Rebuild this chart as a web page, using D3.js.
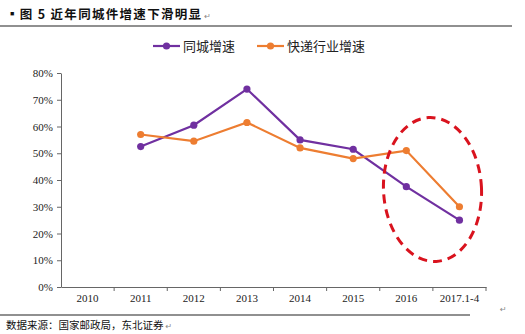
<!DOCTYPE html>
<html><head><meta charset="utf-8">
<script src="https://cdn.jsdelivr.net/npm/d3@7"></script>
<style>body{margin:0;background:#fff}svg{display:block}</style>
</head><body>
<script>
const categories = ["2010","2011","2012","2013","2014","2015","2016","2017.1-4"];
const cityGrowth = [null,52.5,60.5,74,55,51.5,37.5,25];
const expressGrowth = [null,57,54.5,61.5,52,48,51,30];
const yTicks = [0,10,20,30,40,50,60,70,80];
const seriesNames = ["同城增速","快递行业增速"];
const colors = ["#7030a0","#ed7d31"];

const W=525,H=334;
const svg=d3.select("body").append("svg").attr("width",W).attr("height",H);
const m={l:61,r:39,t:73,b:47};
const x=d3.scaleBand().domain(categories).range([m.l,W-m.r]);
const y=d3.scaleLinear().domain([0,80]).range([H-m.b,m.t]);

function withMark(t,xx,yy){
  const w=t.node().getComputedTextLength();
  svg.append("text").attr("x",xx+w+2).attr("y",yy).attr("font-family","DejaVu Sans").attr("font-size",8).attr("fill","#888").text("↵");
}

// title
const tt=svg.append("text").attr("x",6).attr("y",19).attr("font-family","Noto Sans CJK SC").attr("font-weight","bold")
  .attr("font-size",12.5).attr("letter-spacing",1.3).attr("fill","#111").text("▪图 5 近年同城件增速下滑明显");
withMark(tt,6,19);
svg.append("line").attr("x1",0).attr("x2",512).attr("y1",26).attr("y2",26).attr("stroke","#222").attr("stroke-width",1.2);

// axes
const ya=svg.append("g").attr("transform",`translate(${m.l},0)`)
  .call(d3.axisLeft(y).tickValues(yTicks).tickFormat(d=>d+"%").tickSize(4).tickSizeOuter(0));
const xa=svg.append("g").attr("transform",`translate(0,${H-m.b})`)
  .call(d3.axisBottom(x).tickSize(0).tickSizeOuter(0));
[ya,xa].forEach(g=>{g.select(".domain").attr("stroke","#666");g.selectAll("line").attr("stroke","#666");
  g.selectAll("text").attr("font-family","Liberation Serif").attr("font-size",11).attr("fill","#222");});
ya.selectAll("text").attr("dx",-1);
xa.selectAll("text").attr("dy",12);
// category boundary ticks
const bounds=categories.map(c=>x(c)).concat([x.range()[1]]);
svg.append("g").selectAll("line").data(bounds.slice(1)).join("line")
  .attr("x1",d=>d).attr("x2",d=>d).attr("y1",H-m.b).attr("y2",H-m.b+4).attr("stroke","#666");

// series
const cx=c=>x(c)+x.bandwidth()/2;
[cityGrowth,expressGrowth].forEach((vals,i)=>{
  const pts=categories.map((c,j)=>({c,v:vals[j]})).filter(d=>d.v!=null);
  svg.append("path").datum(pts).attr("fill","none").attr("stroke",colors[i]).attr("stroke-width",2.2)
    .attr("d",d3.line().x(d=>cx(d.c)).y(d=>y(d.v)));
  svg.append("g").selectAll("circle").data(pts).join("circle")
    .attr("cx",d=>cx(d.c)).attr("cy",d=>y(d.v)).attr("r",3.6).attr("fill",colors[i]);
});

// red dashed ellipse
svg.append("ellipse").attr("cx",432.5).attr("cy",189.5).attr("rx",49).attr("ry",72)
  .attr("transform","rotate(-3,432.5,189.5)")
  .attr("fill","none").attr("stroke","#d9131e").attr("stroke-width",3).attr("stroke-dasharray","9,6");

// legend
const lg=[{x:153,tx:183},{x:257,tx:287}];
lg.forEach((p,i)=>{
  svg.append("line").attr("x1",p.x).attr("x2",p.x+27).attr("y1",46).attr("y2",46).attr("stroke",colors[i]).attr("stroke-width",2.2);
  svg.append("circle").attr("cx",p.x+13.5).attr("cy",46).attr("r",3.6).attr("fill",colors[i]);
  svg.append("text").attr("x",p.tx).attr("y",51).attr("font-family","Noto Sans CJK SC").attr("font-size",13).attr("fill","#222").text(seriesNames[i]);
});

// source
svg.append("line").attr("x1",0).attr("x2",470).attr("y1",315).attr("y2",315).attr("stroke","#222").attr("stroke-width",1.2);
const st=svg.append("text").attr("x",6).attr("y",329).attr("font-family","Noto Sans CJK SC").attr("font-size",10.5).attr("fill","#111").text("数据来源：国家邮政局，东北证券");
withMark(st,6,329);
svg.append("text").attr("x",500).attr("y",312).attr("font-family","DejaVu Sans").attr("font-size",8).attr("fill","#888").text("↵");
</script>
</body></html>
